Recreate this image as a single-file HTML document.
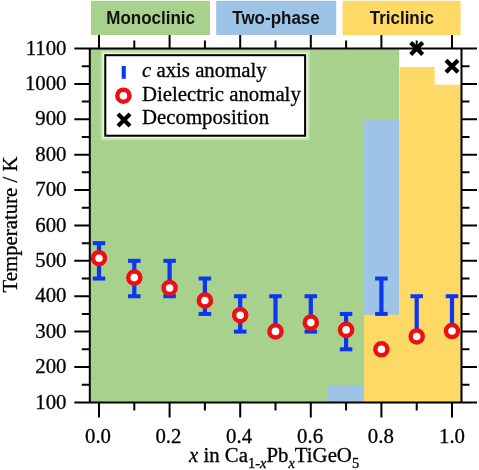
<!DOCTYPE html>
<html><head><meta charset="utf-8"><style>
html,body{margin:0;padding:0;background:#fff;width:479px;height:470px;overflow:hidden}
svg{display:block}
</style></head><body>
<svg width="479" height="470" viewBox="0 0 479 470">
<rect x="89.80" y="48.50" width="309.70" height="353.90" fill="#A9D18E"/>
<rect x="399.50" y="48.50" width="62.00" height="353.90" fill="#fff"/>
<rect x="364.10" y="120.08" width="35.40" height="194.65" fill="#9DC3E6"/>
<rect x="328.10" y="385.50" width="36.00" height="16.89" fill="#9DC3E6"/>
<path d="M364.10 402.40V314.73H399.50V66.99H434.70V84.69H461.50V402.40Z" fill="#FFD966"/>
<rect x="103.55" y="53.45" width="203.3" height="83.99999999999999" fill="none" stroke="#fff" stroke-opacity="0.8" stroke-width="1.5"/>
<rect x="101.8" y="51.7" width="206.8" height="87.49999999999999" fill="none" stroke="#fff" stroke-opacity="0.4" stroke-width="2"/>
<rect x="105.3" y="55.2" width="199.8" height="80.49999999999999" fill="#fff" stroke="#000" stroke-width="2"/>
<rect x="121.7" y="66" width="4.1" height="12.8" fill="#0C36F2"/>
<circle cx="123.4" cy="95.7" r="6.05" fill="#fff" stroke="#EC1010" stroke-width="4.5"/>
<path d="M118.00 114.00L130.00 126.00M130.00 114.00L118.00 126.00" stroke="#000" stroke-width="4.2" fill="none"/>
<text x="142" y="77" font-size="20.8" font-family="Liberation Serif, serif" stroke="#000" stroke-width="0.3"><tspan font-style="italic">c</tspan> axis anomaly</text>
<text x="142" y="100.5" font-size="20.8" font-family="Liberation Serif, serif" stroke="#000" stroke-width="0.3">Dielectric anomaly</text>
<text x="142" y="123.5" font-size="20.8" font-family="Liberation Serif, serif" stroke="#000" stroke-width="0.3">Decomposition</text>
<rect x="96.90" y="243.14" width="4.2" height="35.39" fill="#0C36F2"/>
<rect x="92.75" y="241.14" width="12.5" height="4" fill="#0C36F2"/>
<rect x="92.75" y="276.53" width="12.5" height="4" fill="#0C36F2"/>
<rect x="132.20" y="260.84" width="4.2" height="35.39" fill="#0C36F2"/>
<rect x="128.05" y="258.84" width="12.5" height="4" fill="#0C36F2"/>
<rect x="128.05" y="294.23" width="12.5" height="4" fill="#0C36F2"/>
<rect x="167.50" y="260.84" width="4.2" height="35.39" fill="#0C36F2"/>
<rect x="163.35" y="258.84" width="12.5" height="4" fill="#0C36F2"/>
<rect x="163.35" y="294.23" width="12.5" height="4" fill="#0C36F2"/>
<rect x="202.80" y="278.53" width="4.2" height="35.39" fill="#0C36F2"/>
<rect x="198.65" y="276.53" width="12.5" height="4" fill="#0C36F2"/>
<rect x="198.65" y="311.93" width="12.5" height="4" fill="#0C36F2"/>
<rect x="238.10" y="296.23" width="4.2" height="35.39" fill="#0C36F2"/>
<rect x="233.95" y="294.23" width="12.5" height="4" fill="#0C36F2"/>
<rect x="233.95" y="329.62" width="12.5" height="4" fill="#0C36F2"/>
<rect x="273.40" y="296.23" width="4.2" height="35.39" fill="#0C36F2"/>
<rect x="269.25" y="294.23" width="12.5" height="4" fill="#0C36F2"/>
<rect x="269.25" y="329.62" width="12.5" height="4" fill="#0C36F2"/>
<rect x="308.70" y="296.23" width="4.2" height="35.39" fill="#0C36F2"/>
<rect x="304.55" y="294.23" width="12.5" height="4" fill="#0C36F2"/>
<rect x="304.55" y="329.62" width="12.5" height="4" fill="#0C36F2"/>
<rect x="344.00" y="313.93" width="4.2" height="35.39" fill="#0C36F2"/>
<rect x="339.85" y="311.93" width="12.5" height="4" fill="#0C36F2"/>
<rect x="339.85" y="347.31" width="12.5" height="4" fill="#0C36F2"/>
<rect x="379.30" y="278.53" width="4.2" height="35.39" fill="#0C36F2"/>
<rect x="375.15" y="276.53" width="12.5" height="4" fill="#0C36F2"/>
<rect x="375.15" y="311.93" width="12.5" height="4" fill="#0C36F2"/>
<rect x="414.60" y="296.23" width="4.2" height="40.20" fill="#0C36F2"/>
<rect x="410.45" y="294.23" width="12.5" height="4" fill="#0C36F2"/>
<rect x="449.90" y="296.23" width="4.2" height="34.82" fill="#0C36F2"/>
<rect x="445.75" y="294.23" width="12.5" height="4" fill="#0C36F2"/>
<circle cx="99.00" cy="258.19" r="6.05" fill="#fff" stroke="#EC1010" stroke-width="4.5"/>
<circle cx="134.30" cy="277.61" r="6.05" fill="#fff" stroke="#EC1010" stroke-width="4.5"/>
<circle cx="169.60" cy="287.98" r="6.05" fill="#fff" stroke="#EC1010" stroke-width="4.5"/>
<circle cx="204.90" cy="300.48" r="6.05" fill="#fff" stroke="#EC1010" stroke-width="4.5"/>
<circle cx="240.20" cy="315.20" r="6.05" fill="#fff" stroke="#EC1010" stroke-width="4.5"/>
<circle cx="275.50" cy="331.41" r="6.05" fill="#fff" stroke="#EC1010" stroke-width="4.5"/>
<circle cx="310.80" cy="322.60" r="6.05" fill="#fff" stroke="#EC1010" stroke-width="4.5"/>
<circle cx="346.10" cy="329.89" r="6.05" fill="#fff" stroke="#EC1010" stroke-width="4.5"/>
<circle cx="381.40" cy="349.31" r="6.05" fill="#fff" stroke="#EC1010" stroke-width="4.5"/>
<circle cx="416.70" cy="336.43" r="6.05" fill="#fff" stroke="#EC1010" stroke-width="4.5"/>
<circle cx="452.00" cy="331.05" r="6.05" fill="#fff" stroke="#EC1010" stroke-width="4.5"/>
<path d="M410.70 42.50L422.70 54.50M422.70 42.50L410.70 54.50" stroke="#000" stroke-width="4.2" fill="none"/>
<path d="M446.00 60.19L458.00 72.19M458.00 60.19L446.00 72.19" stroke="#000" stroke-width="4.2" fill="none"/>
<path d="M89.80 47.50V403.40 M461.50 47.50V403.40 M89.80 48.50H461.50 M89.80 402.40H461.50 M74.30 402.40H89.80 M461.50 402.40H477.00 M81.80 384.70H89.80 M461.50 384.70H469.50 M74.30 367.01H89.80 M461.50 367.01H477.00 M81.80 349.31H89.80 M461.50 349.31H469.50 M74.30 331.62H89.80 M461.50 331.62H477.00 M81.80 313.93H89.80 M461.50 313.93H469.50 M74.30 296.23H89.80 M461.50 296.23H477.00 M81.80 278.53H89.80 M461.50 278.53H469.50 M74.30 260.84H89.80 M461.50 260.84H477.00 M81.80 243.14H89.80 M461.50 243.14H469.50 M74.30 225.45H89.80 M461.50 225.45H477.00 M81.80 207.75H89.80 M461.50 207.75H469.50 M74.30 190.06H89.80 M461.50 190.06H477.00 M81.80 172.37H89.80 M461.50 172.37H469.50 M74.30 154.67H89.80 M461.50 154.67H477.00 M81.80 136.97H89.80 M461.50 136.97H469.50 M74.30 119.28H89.80 M461.50 119.28H477.00 M81.80 101.59H89.80 M461.50 101.59H469.50 M74.30 83.89H89.80 M461.50 83.89H477.00 M81.80 66.19H89.80 M461.50 66.19H469.50 M74.30 48.50H89.80 M461.50 48.50H477.00 M99.00 402.40V417.40 M99.00 48.50V33.50 M134.30 402.40V410.40 M134.30 48.50V40.50 M169.60 402.40V417.40 M169.60 48.50V33.50 M204.90 402.40V410.40 M204.90 48.50V40.50 M240.20 402.40V417.40 M240.20 48.50V33.50 M275.50 402.40V410.40 M275.50 48.50V40.50 M310.80 402.40V417.40 M310.80 48.50V33.50 M346.10 402.40V410.40 M346.10 48.50V40.50 M381.40 402.40V417.40 M381.40 48.50V33.50 M416.70 402.40V410.40 M416.70 48.50V40.50 M452.00 402.40V417.40 M452.00 48.50V33.50" stroke="#000" stroke-width="2" fill="none"/>
<text x="66.5" y="408.60" text-anchor="end" font-size="20.8" font-family="Liberation Serif, serif" stroke="#000" stroke-width="0.3">100</text>
<text x="66.5" y="373.21" text-anchor="end" font-size="20.8" font-family="Liberation Serif, serif" stroke="#000" stroke-width="0.3">200</text>
<text x="66.5" y="337.82" text-anchor="end" font-size="20.8" font-family="Liberation Serif, serif" stroke="#000" stroke-width="0.3">300</text>
<text x="66.5" y="302.43" text-anchor="end" font-size="20.8" font-family="Liberation Serif, serif" stroke="#000" stroke-width="0.3">400</text>
<text x="66.5" y="267.04" text-anchor="end" font-size="20.8" font-family="Liberation Serif, serif" stroke="#000" stroke-width="0.3">500</text>
<text x="66.5" y="231.65" text-anchor="end" font-size="20.8" font-family="Liberation Serif, serif" stroke="#000" stroke-width="0.3">600</text>
<text x="66.5" y="196.26" text-anchor="end" font-size="20.8" font-family="Liberation Serif, serif" stroke="#000" stroke-width="0.3">700</text>
<text x="66.5" y="160.87" text-anchor="end" font-size="20.8" font-family="Liberation Serif, serif" stroke="#000" stroke-width="0.3">800</text>
<text x="66.5" y="125.48" text-anchor="end" font-size="20.8" font-family="Liberation Serif, serif" stroke="#000" stroke-width="0.3">900</text>
<text x="66.5" y="90.09" text-anchor="end" font-size="20.8" font-family="Liberation Serif, serif" stroke="#000" stroke-width="0.3">1000</text>
<text x="66.5" y="54.70" text-anchor="end" font-size="20.8" font-family="Liberation Serif, serif" stroke="#000" stroke-width="0.3">1100</text>
<text x="98.00" y="443" text-anchor="middle" font-size="20.8" font-family="Liberation Serif, serif" stroke="#000" stroke-width="0.3">0.0</text>
<text x="168.40" y="443" text-anchor="middle" font-size="20.8" font-family="Liberation Serif, serif" stroke="#000" stroke-width="0.3">0.2</text>
<text x="239.10" y="443" text-anchor="middle" font-size="20.8" font-family="Liberation Serif, serif" stroke="#000" stroke-width="0.3">0.4</text>
<text x="310.10" y="443" text-anchor="middle" font-size="20.8" font-family="Liberation Serif, serif" stroke="#000" stroke-width="0.3">0.6</text>
<text x="380.80" y="443" text-anchor="middle" font-size="20.8" font-family="Liberation Serif, serif" stroke="#000" stroke-width="0.3">0.8</text>
<text x="452.00" y="443" text-anchor="middle" font-size="20.8" font-family="Liberation Serif, serif" stroke="#000" stroke-width="0.3">1.0</text>
<text transform="translate(17 224.5) rotate(-90)" text-anchor="middle" font-size="20.8" font-family="Liberation Serif, serif" stroke="#000" stroke-width="0.3">Temperature / K</text>
<text x="189" y="462" font-size="20.8" font-family="Liberation Serif, serif" stroke="#000" stroke-width="0.3"><tspan font-style="italic">x</tspan> in Ca<tspan font-size="14.5" dy="5.5">1-<tspan font-style="italic">x</tspan></tspan><tspan dy="-5.5">Pb</tspan><tspan font-size="14.5" dy="5.5" font-style="italic">x</tspan><tspan dy="-5.5">TiGeO</tspan><tspan font-size="14.5" dy="5.5">5</tspan></text>
<rect x="91" y="0.8" width="119" height="34.2" fill="#A9D18E"/>
<rect x="216.2" y="0.8" width="120" height="34.2" fill="#9DC3E6"/>
<rect x="342.6" y="0.8" width="118" height="34.2" fill="#FFD966"/>
<text transform="translate(150.6 23.9) scale(1 1.07)" text-anchor="middle" font-size="17" fill="#111" font-family="Liberation Sans, sans-serif" font-weight="bold">Monoclinic</text>
<text transform="translate(276 23.9) scale(1 1.07)" text-anchor="middle" font-size="17" fill="#111" font-family="Liberation Sans, sans-serif" font-weight="bold">Two-phase</text>
<text transform="translate(401.8 23.9) scale(1 1.07)" text-anchor="middle" font-size="17" fill="#111" font-family="Liberation Sans, sans-serif" font-weight="bold">Triclinic</text>
</svg>
</body></html>
